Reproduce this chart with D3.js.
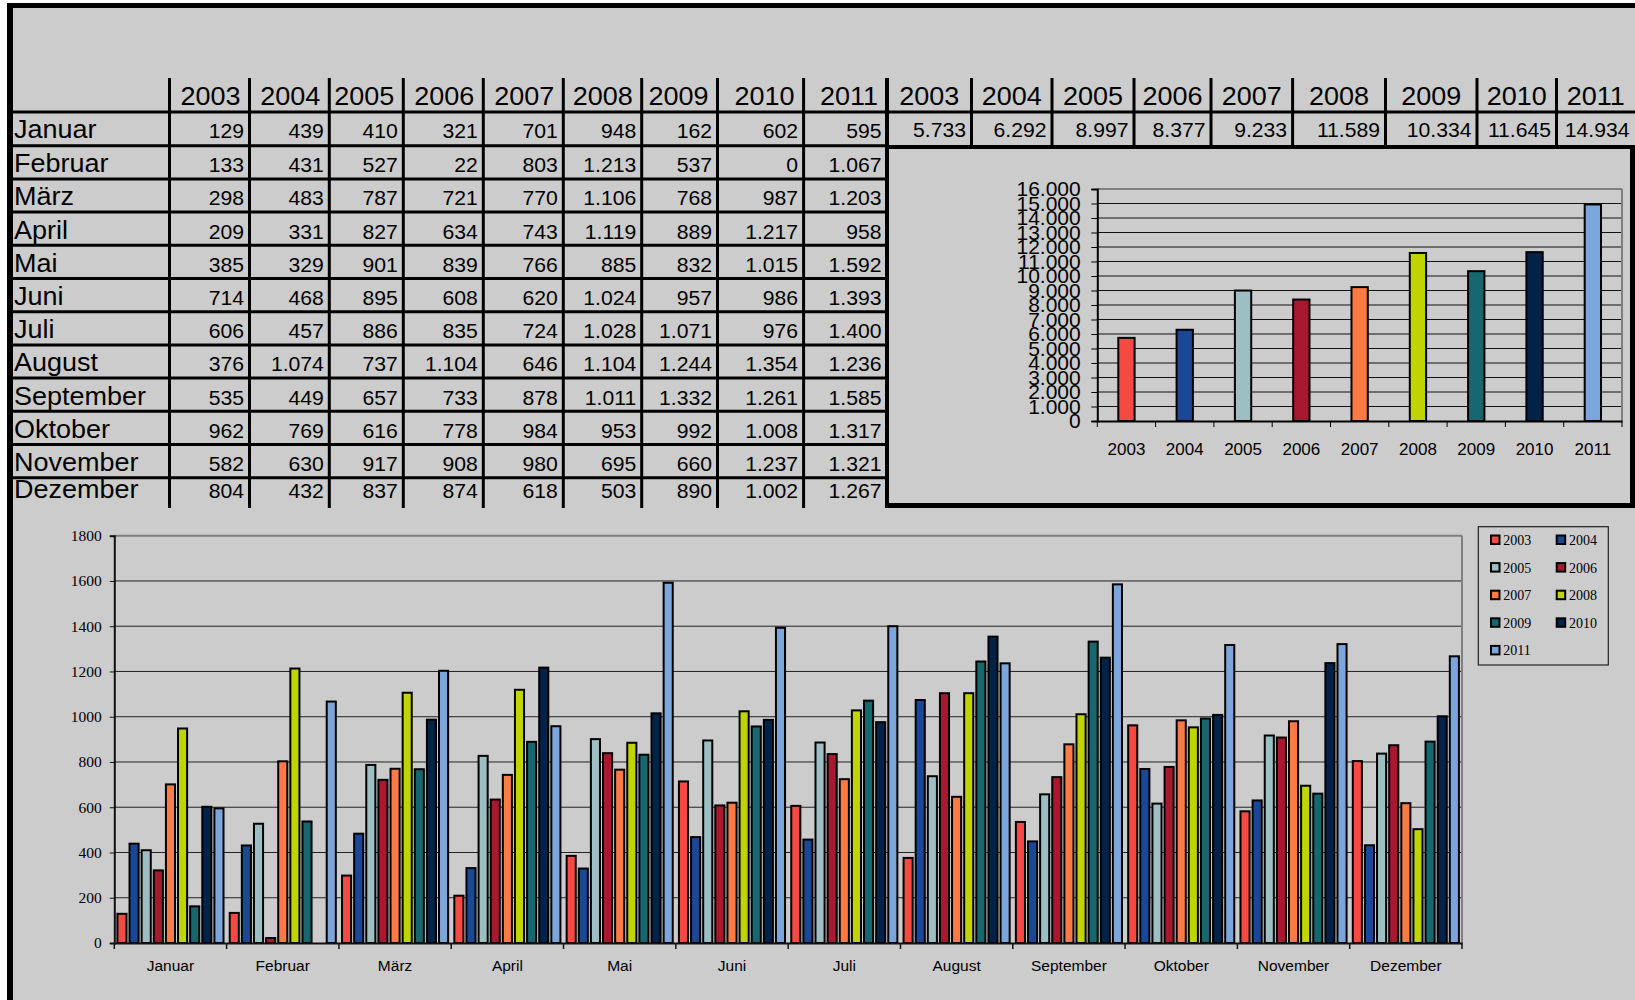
<!DOCTYPE html>
<html><head><meta charset="utf-8">
<script src="https://cdn.jsdelivr.net/npm/d3@7"></script>
<style>body{margin:0;background:#fff}svg{display:block}</style>
</head><body>
<svg id="c" width="1635" height="1000"></svg>
<script>
// ---------- DATA ----------
const months = ["Januar","Februar","März","April","Mai","Juni","Juli","August","September","Oktober","November","Dezember"];
const years = ["2003","2004","2005","2006","2007","2008","2009","2010","2011"];
const v2003 = [129,133,298,209,385,714,606,376,535,962,582,804];
const v2004 = [439,431,483,331,329,468,457,1074,449,769,630,432];
const v2005 = [410,527,787,827,901,895,886,737,657,616,917,837];
const v2006 = [321,22,721,634,839,608,835,1104,733,778,908,874];
const v2007 = [701,803,770,743,766,620,724,646,878,984,980,618];
const v2008 = [948,1213,1106,1119,885,1024,1028,1104,1011,953,695,503];
const v2009 = [162,537,768,889,832,957,1071,1244,1332,992,660,890];
const v2010 = [602,0,987,1217,1015,986,976,1354,1261,1008,1237,1002];
const v2011 = [595,1067,1203,958,1592,1393,1400,1236,1585,1317,1321,1267];
const totals = [5733,6292,8997,8377,9233,11589,10334,11645,14934];
const mainTicks = [0,200,400,600,800,1000,1200,1400,1600,1800];
const smallTicks = [0,1000,2000,3000,4000,5000,6000,7000,8000,9000,10000,11000,12000,13000,14000,15000,16000];
const yearColors = ["#f44a42","#1b4896","#9dbfc3","#a8192f","#fb7a46","#bfd400","#17676e","#022249","#7ba6db"];

const series = [v2003,v2004,v2005,v2006,v2007,v2008,v2009,v2010,v2011];

// ---------- SETUP ----------
const svg = d3.select("#c");
const de = d3.formatLocale({decimal:",", thousands:".", grouping:[3], currency:["","€"]});
const fmt = de.format(",d");
const SANS = "'Liberation Sans', Arial, sans-serif";
const SERIF = "'Liberation Serif', 'Times New Roman', serif";
const BG = "#cccccc";

svg.append("rect").attr("x",7).attr("y",3).attr("width",1628).attr("height",997).attr("fill",BG);

// ---------- TABLES ----------
const leftCols = [169.5,249.5,329.3,403.3,483.3,563.3,641.7,717.5,803.6,887];
const rightCols = [887,971.5,1052,1134,1211,1292.6,1385.5,1477,1556.5,1635];
const rowTop = i => 112.5 + i*33.2;
const SX = 1.08;
const tbl = svg.append("g");

function stretchedText(g, x, y, txt, size, anchor){
  g.append("text").attr("transform",`translate(${x},${y}) scale(${SX},1)`)
   .attr("text-anchor",anchor).attr("font-family",SANS).attr("font-size",size)
   .attr("fill","#000").text(txt);
}

// vertical separators left table
leftCols.slice(0,-1).forEach(x=>{
  tbl.append("line").attr("x1",x).attr("x2",x).attr("y1",78).attr("y2",508).attr("stroke","#000").attr("stroke-width",3);
});
// row lines left table
for(let i=1;i<12;i++){
  tbl.append("line").attr("x1",10).attr("x2",887).attr("y1",rowTop(i)).attr("y2",rowTop(i)).attr("stroke","#000").attr("stroke-width",3);
}
// header bottom line
tbl.append("line").attr("x1",10).attr("x2",1635).attr("y1",112).attr("y2",112).attr("stroke","#000").attr("stroke-width",3);
// right table separators
rightCols.slice(1,-1).forEach(x=>{
  tbl.append("line").attr("x1",x).attr("x2",x).attr("y1",78).attr("y2",146).attr("stroke","#000").attr("stroke-width",3);
});

// header texts
years.forEach((yr,j)=>{
  stretchedText(tbl, leftCols[j+1]-9, 105, yr, 25, "end");
  stretchedText(tbl, (rightCols[j]+rightCols[j+1])/2, 105, yr, 25, "middle");
  stretchedText(tbl, rightCols[j+1]-5.5, 137.3, fmt(totals[j]), 19.6, "end");
});
// body texts
months.forEach((m,i)=>{
  const base = rowTop(i) + (i===11 ? 20.5 : (i===0 ? 25 : 26.5));
  stretchedText(tbl, 14, base, m, 25, "start");
  series.forEach((s,j)=>{
    stretchedText(tbl, leftCols[j+1]-5.5, base, fmt(s[i]), 19.6, "end");
  });
});

// ---------- SMALL CHART (totals) ----------
const sx = d3.scaleBand(years,[1097.3,1622]).paddingInner(0.72).paddingOuter(0.36);
const sy = d3.scaleLinear([0,16000],[421,189]);
const sc = svg.append("g");
smallTicks.slice(1,-1).forEach(t=>{
  sc.append("line").attr("x1",1097.3).attr("x2",1622).attr("y1",sy(t)).attr("y2",sy(t)).attr("stroke","#111").attr("stroke-width",1);
});
sc.append("line").attr("x1",1097.3).attr("x2",1622).attr("y1",sy(16000)).attr("y2",sy(16000)).attr("stroke","#7f7f7f").attr("stroke-width",2);
sc.append("line").attr("x1",1622).attr("x2",1622).attr("y1",sy(16000)).attr("y2",sy(0)).attr("stroke","#7f7f7f").attr("stroke-width",2);
sc.selectAll("rect.tb").data(years).join("rect").attr("class","tb")
  .attr("x",d=>sx(d)).attr("width",sx.bandwidth())
  .attr("y",(d,j)=>sy(totals[j])).attr("height",(d,j)=>sy(0)-sy(totals[j]))
  .attr("fill",(d,j)=>yearColors[j]).attr("stroke","#000").attr("stroke-width",2);
const syAxis = sc.append("g").attr("transform","translate(1097.3,0)")
  .call(d3.axisLeft(sy).tickValues(smallTicks).tickSize(6).tickPadding(10.6).tickFormat(fmt));
syAxis.select(".domain").attr("stroke","#000").attr("stroke-width",2);
syAxis.selectAll(".tick line").attr("stroke","#000").attr("stroke-width",1);
syAxis.selectAll("text").attr("font-family",SANS).attr("font-size",21).attr("fill","#000");
const sxAxis = sc.append("g").attr("transform","translate(0,421)")
  .call(d3.axisBottom(sx).tickSize(0).tickPadding(22));
sxAxis.select(".domain").attr("stroke","#000").attr("stroke-width",2);
sxAxis.selectAll("text").attr("font-family",SANS).attr("font-size",17).attr("fill","#000");
years.concat(["end"]).forEach((d,i)=>{
  const bx = 1097.3 + i*sx.step();
  sc.append("line").attr("x1",bx).attr("x2",bx).attr("y1",421).attr("y2",427).attr("stroke","#000").attr("stroke-width",1);
});

// box around small chart
svg.append("rect").attr("x",885).attr("y",78).attr("width",4).attr("height",430).attr("fill","#000");
svg.append("rect").attr("x",885).attr("y",145).attr("width",750).attr("height",4).attr("fill","#000");
svg.append("rect").attr("x",1630).attr("y",145).attr("width",5).attr("height",363).attr("fill","#000");
svg.append("rect").attr("x",885).attr("y",503).attr("width",750).attr("height",5).attr("fill","#000");

// ---------- MAIN CHART ----------
const x0 = d3.scaleBand(months,[114.3,1462]).padding(0);
const x1 = d3.scaleBand(years,[0,x0.bandwidth()]).paddingInner(0.25).paddingOuter(0.256);
const y = d3.scaleLinear([0,1800],[943,535.7]);
const mc = svg.append("g");
mainTicks.slice(1,-1).forEach(t=>{
  mc.append("line").attr("x1",114.3).attr("x2",1462).attr("y1",y(t)).attr("y2",y(t)).attr("stroke","#222").attr("stroke-width",1);
});
mc.append("line").attr("x1",114.3).attr("x2",1462).attr("y1",y(1800)).attr("y2",y(1800)).attr("stroke","#7f7f7f").attr("stroke-width",2);
mc.append("line").attr("x1",1462).attr("x2",1462).attr("y1",y(1800)).attr("y2",y(0)).attr("stroke","#7f7f7f").attr("stroke-width",2);

const groups = mc.selectAll("g.m").data(months).join("g").attr("class","m")
  .attr("transform",d=>`translate(${x0(d)},0)`);
groups.selectAll("rect").data((m,i)=>years.map((yr,j)=>({yr,j,v:series[j][i]}))).join("rect")
  .attr("x",d=>x1(d.yr)).attr("width",x1.bandwidth())
  .attr("y",d=>y(d.v)).attr("height",d=>y(0)-y(d.v))
  .attr("fill",d=>yearColors[d.j]).attr("stroke","#000").attr("stroke-width",2);

const yAxis = mc.append("g").attr("transform","translate(114.3,0)")
  .call(d3.axisLeft(y).tickValues(mainTicks).tickSize(4.5).tickPadding(8).tickFormat(d3.format("d")));
yAxis.select(".domain").attr("stroke","#111").attr("stroke-width",2);
yAxis.selectAll(".tick line").attr("stroke","#111");
yAxis.selectAll("text").attr("font-family",SERIF).attr("font-size",15.5).attr("fill","#000");

const xAxis = mc.append("g").attr("transform","translate(0,943)")
  .call(d3.axisBottom(x0).tickSize(0).tickPadding(17));
xAxis.select(".domain").attr("stroke","#111").attr("stroke-width",2);
xAxis.selectAll("text").attr("font-family",SANS).attr("font-size",15.5).attr("fill","#000");
months.concat(["end"]).forEach((d,i)=>{
  const bx = 114.3 + i*x0.step();
  mc.append("line").attr("x1",bx).attr("x2",bx).attr("y1",943).attr("y2",949).attr("stroke","#111").attr("stroke-width",1.5);
});

// legend
const lg = svg.append("g");
lg.append("rect").attr("x",1478.3).attr("y",526.7).attr("width",130).attr("height",138.3)
  .attr("fill","none").attr("stroke","#222").attr("stroke-width",1.2);
years.forEach((yr,j)=>{
  const col = j%2, row = Math.floor(j/2);
  const cy = 540 + row*27.6;
  lg.append("rect").attr("x",1491+col*65.7).attr("y",cy-4.5).attr("width",8.5).attr("height",8.5)
    .attr("fill",yearColors[j]).attr("stroke","#000").attr("stroke-width",2);
  lg.append("text").attr("x",1503.3+col*65.7).attr("y",cy+5).attr("font-family",SERIF)
    .attr("font-size",14).attr("fill","#000").text(yr);
});

// outer frame
svg.append("rect").attr("x",7).attr("y",3).attr("width",6).attr("height",997).attr("fill","#000");
svg.append("rect").attr("x",7).attr("y",3).attr("width",1628).attr("height",5).attr("fill","#000");
</script>
</body></html>
